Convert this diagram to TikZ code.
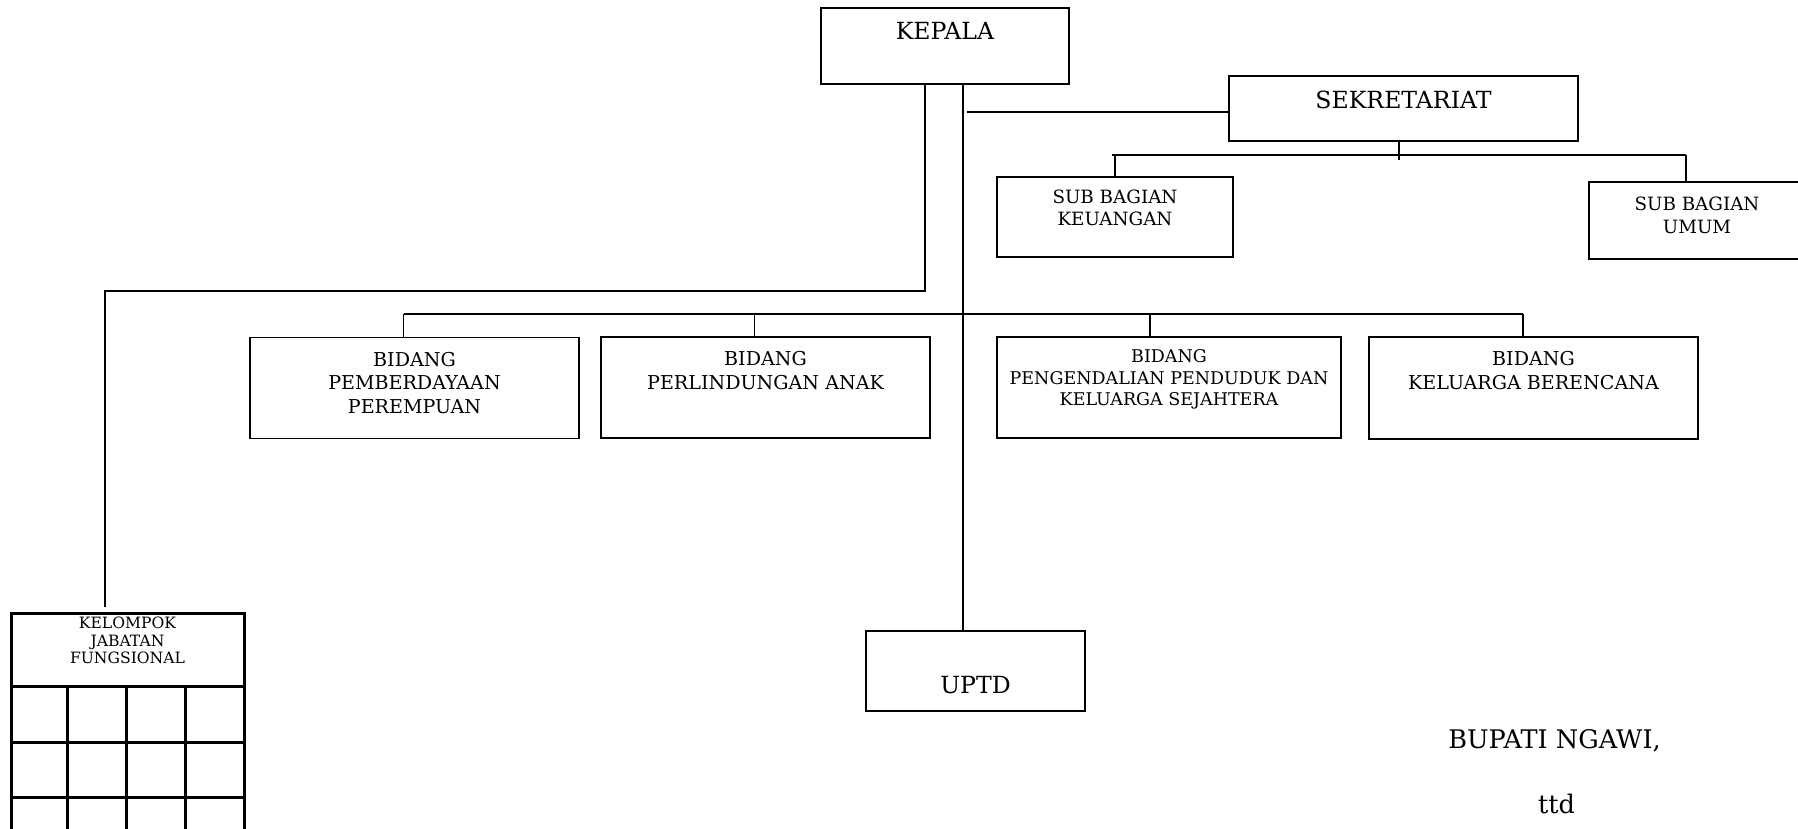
\documentclass[tikz,border=0pt]{standalone}
\usepackage{fontspec}
\setmainfont{DejaVu Serif}
\usetikzlibrary{positioning}

\tikzset{
  unit/.style={draw, rectangle, line width=1.5pt, inner sep=0pt},
  lbl/.style={inner sep=0pt, align=center},
  conn/.style={line width=1.4pt},
  grid/.style={line width=3pt},
  fbig/.style={font=\fontsize{23.6}{28}\selectfont},
  fsub/.style={font=\fontsize{18.3}{22.7}\selectfont},
  fbid/.style={font=\fontsize{19.1}{23.4}\selectfont},
  fpen/.style={font=\fontsize{17.5}{21.7}\selectfont},
  fjf/.style={font=\fontsize{15.6}{17.6}\selectfont},
  fsig/.style={font=\fontsize{25.6}{30}\selectfont}
}

\begin{document}
\begin{tikzpicture}[x=1pt,y=-1pt]
	\useasboundingbox (0,0) rectangle (1798,829);

	\node[unit, minimum width=248pt, minimum height=76pt] (kepala) at (945,46) {};
	\node[lbl, fbig, below=14.5pt of kepala.north] (kepalat) {KEPALA};
	\node[unit, minimum width=349pt, minimum height=65pt] (sekr) at (1403.5,108.5) {};
	\node[lbl, fbig, below=15.5pt of sekr.north] (sekrt) {SEKRETARIAT};
	\node[unit, minimum width=236pt, minimum height=80pt] (keu) at (1115,217) {};
	\node[lbl, fsub, below=13pt of keu.north] (keut) {SUB BAGIAN\\KEUANGAN};
	\node[unit, minimum width=216pt, minimum height=77pt] (umum) at (1697,220.5) {};
	\node[lbl, fsub, below=15.7pt of umum.north] (umumt) {SUB BAGIAN\\UMUM};

	\node[unit, minimum width=329pt, minimum height=101pt] (b1) at (414.5,388) {};
	\node[lbl, fbid, below=15.2pt of b1.north] (b1t) {BIDANG\\PEMBERDAYAAN\\PEREMPUAN};
	\node[unit, minimum width=329pt, minimum height=101pt] (b2) at (765.5,387.5) {};
	\node[lbl, fbid, below=15pt of b2.north] (b2t) {BIDANG\\PERLINDUNGAN ANAK};
	\node[unit, minimum width=344pt, minimum height=101pt] (b3) at (1169,387.5) {};
	\node[lbl, fpen, below=13pt of b3.north] (b3t) {BIDANG\\PENGENDALIAN PENDUDUK DAN\\KELUARGA SEJAHTERA};
	\node[unit, minimum width=329pt, minimum height=102pt] (b4) at (1533.5,388) {};
	\node[lbl, fbid, below=15pt of b4.north] (b4t) {BIDANG\\KELUARGA BERENCANA};

	\node[unit, minimum width=219pt, minimum height=80pt] (uptd) at (975.5,671) {};
	\node[lbl, fbig, below=45.5pt of uptd.north] (uptdt) {UPTD};

	\node[unit, grid, minimum width=233pt, minimum height=73pt] (kjf) at (127.5,649.5) {};
	\node[lbl, fjf, below=5.5pt of kjf.north] (kjft) {KELOMPOK\\JABATAN\\FUNGSIONAL};
	\foreach \gx in {11,67,126,185,244}
		\draw[grid] (\gx,686) -- (\gx,840);
	\foreach \gy in {742,797}
		\draw[grid] (11,\gy) -- (244,\gy);

	\node[lbl, fsig, anchor=base] (bupati) at (1554.5,748.3) {BUPATI NGAWI,};
	\node[lbl, fsig, anchor=base] (ttd) at (1556.5,813.3) {ttd};

	\coordinate (jf) at (105,291);
	\coordinate (sk) at (967,112);
	\coordinate (sbL) at (1112,155);
	\coordinate (sbR) at (1686,155);
	\coordinate (bbL) at (404,314);
	\coordinate (bbR) at (1523,314);

	\draw[conn] ([xshift=-20pt]kepala.south) |- (jf) -- ([yshift=5pt]jf |- kjf.north);
	\draw[conn] ([xshift=18pt]kepala.south) -- ([xshift=18pt]kepala.south |- uptd.north);
	\draw[conn] (sk) -- (sk -| sekr.west);
	\draw[conn] ([xshift=-4.5pt]sekr.south) -- ++(0,18);
	\draw[conn, line width=2pt] (sbL) -- (sbR);
	\draw[conn] (keu.north) -- (keu.north |- sbL);
	\draw[conn] (sbR) -- (sbR |- umum.north);
	\draw[conn, line width=1.8pt] (bbL) -- (bbR);
	\foreach \b/\d in {b1/-11, b2/-11, b3/-19, b4/-10.5}
		\draw[conn] ([xshift=\d pt]\b.north) -- ([xshift=\d pt]\b.north |- bbL);
\end{tikzpicture}
\end{document}
